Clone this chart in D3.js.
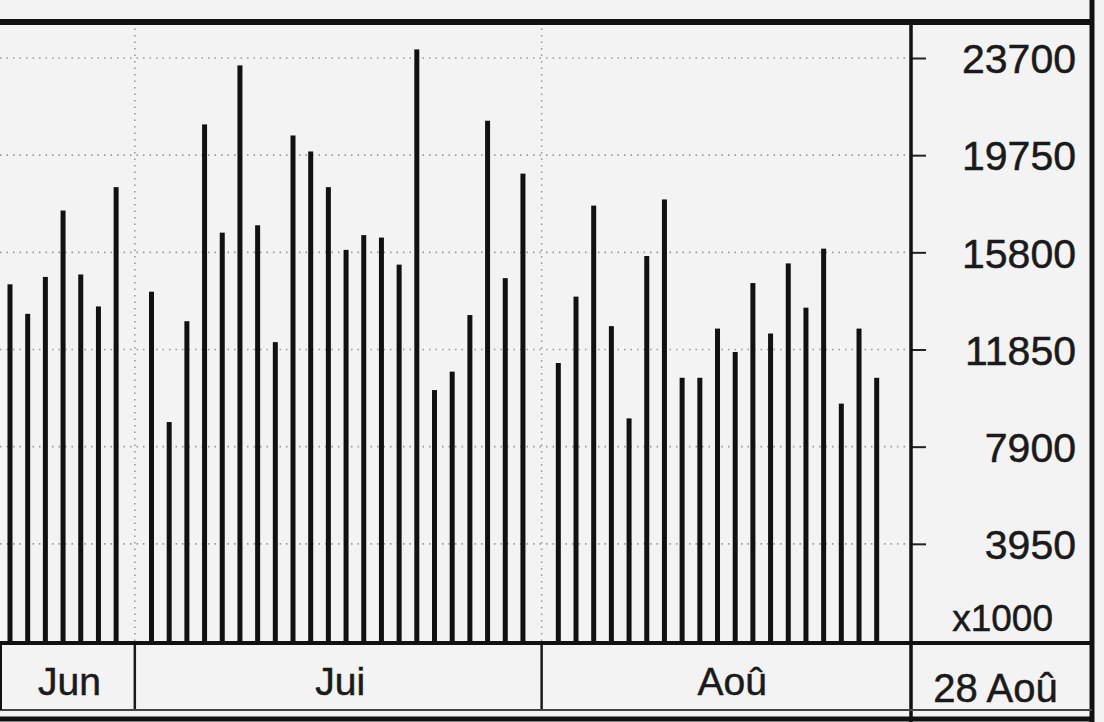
<!DOCTYPE html>
<html>
<head>
<meta charset="utf-8">
<script src="https://cdn.jsdelivr.net/npm/d3@7"></script>
<style>
  html, body { margin: 0; padding: 0; background: #f3f3f3; }
  svg { display: block; }
  text { font-family: "Liberation Sans", Arial, Helvetica, sans-serif; fill: #1a1a1a; stroke: #1a1a1a; stroke-width: 0.5px; }
</style>
</head>
<body>
<svg id="chart" width="1104" height="722"></svg>
<script>
// ---- data ----
const months = ["Jun", "Jui", "Aoû"];
const junValues = [14500, 13300, 14800, 17500, 14900, 13600, 18450];
const juiValues = [14200, 8900, 13000, 21000, 16600, 23400, 16900, 12150, 20550, 19900, 18450,
                   15900, 16500, 16400, 15300, 24050, 10200, 10950, 13250, 21150, 14750, 19000];
const aouValues = [11300, 14000, 17700, 12800, 9050, 15650, 17950, 10700, 10700, 12700, 11750,
                   14550, 12500, 15350, 13550, 15950, 9650, 12700, 10700];
const yTicks = [3950, 7900, 11850, 15800, 19750, 23700];
const unitLabel = "x1000";
const lastDateLabel = "28 Aoû";

// ---- layout ----
const W = 1104, H = 722;
const plotRight = 911, plotTop = 22, baseY = 641;
const bandBottom = 710;
const frameRight = 1092;

const svg = d3.select("#chart");

// build slots: each month's values, with one empty slot between months
const monthSeries = [junValues, juiValues, aouValues];
const bars = [];
const gaps = [];
let slot = 0;
monthSeries.forEach((vals, mi) => {
  if (mi > 0) { gaps.push(slot); slot++; }
  vals.forEach(v => { bars.push({ slot: slot, value: v, month: mi }); slot++; });
});
const lastSlot = slot - 1;

const x = d3.scaleLinear().domain([0, lastSlot]).range([10, 876.7]);
const y = d3.scaleLinear().domain([0, 23700]).range([baseY, 58]);

// horizontal dotted gridlines
svg.append("g").selectAll("line").data(yTicks).join("line")
  .attr("x1", 0).attr("x2", plotRight)
  .attr("y1", d => y(d)).attr("y2", d => y(d))
  .attr("stroke", "#9a9a9a").attr("stroke-width", 1.6)
  .attr("stroke-dasharray", "1.5,5");

// vertical dotted gridlines at month separators
svg.append("g").selectAll("line").data(gaps).join("line")
  .attr("x1", d => x(d) + 1).attr("x2", d => x(d) + 1)
  .attr("y1", plotTop).attr("y2", baseY)
  .attr("stroke", "#9a9a9a").attr("stroke-width", 1.6)
  .attr("stroke-dasharray", "1.5,5");

// bars (thin vertical sticks)
svg.append("g").selectAll("rect").data(bars).join("rect")
  .attr("x", d => x(d.slot) - 2.5)
  .attr("width", 5)
  .attr("y", d => y(d.value))
  .attr("height", d => baseY - y(d.value) + 2)
  .attr("fill", "#111");

// right axis ticks and labels
const axisG = svg.append("g").attr("transform", `translate(${plotRight},0)`);
const yAxis = d3.axisRight(y).tickValues(yTicks).tickSize(15).tickFormat(d3.format("d"));
axisG.call(yAxis);
axisG.select(".domain").remove();
axisG.selectAll(".tick line").attr("stroke", "#222").attr("stroke-width", 2);
axisG.selectAll(".tick text")
  .attr("x", 1076 - plotRight)
  .attr("text-anchor", "end")
  .attr("dy", "0.36em")
  .style("font-size", "41px")
  .style("font-family", "'Liberation Sans', Arial, sans-serif")
  .attr("fill", "#1a1a1a");

svg.append("text")
  .attr("x", 1053).attr("y", 631)
  .attr("text-anchor", "end")
  .style("font-size", "37px")
  .text(unitLabel);

// month bands
const bandEdges = [0, ...gaps.map(g => x(g) + 1), plotRight];
svg.append("g").selectAll("text").data(months).join("text")
  .attr("x", (d, i) => (bandEdges[i] + bandEdges[i + 1]) / 2 + (i === 2 ? 6 : 2))
  .attr("y", 695)
  .attr("text-anchor", "middle")
  .style("font-size", "39px")
  .text(d => d);

svg.append("text")
  .attr("x", (plotRight + frameRight) / 2 - 6).attr("y", 702)
  .attr("text-anchor", "middle")
  .style("font-size", "40px")
  .text(lastDateLabel);

// band separators
svg.append("g").selectAll("line").data(gaps).join("line")
  .attr("x1", d => x(d) + 1).attr("x2", d => x(d) + 1)
  .attr("y1", baseY).attr("y2", bandBottom)
  .attr("stroke", "#1a1a1a").attr("stroke-width", 2.5);

// frame
const frame = svg.append("g").attr("stroke", "#111").attr("fill", "none");
frame.append("line").attr("x1", 0).attr("x2", frameRight + 2).attr("y1", plotTop).attr("y2", plotTop).attr("stroke-width", 6);
frame.append("line").attr("x1", frameRight).attr("x2", frameRight).attr("y1", 0).attr("y2", H).attr("stroke-width", 5);
frame.append("line").attr("x1", plotRight).attr("x2", plotRight).attr("y1", plotTop).attr("y2", H).attr("stroke-width", 3.5);
frame.append("line").attr("x1", 0).attr("x2", frameRight).attr("y1", baseY + 2).attr("y2", baseY + 2).attr("stroke-width", 4);
frame.append("line").attr("x1", 0).attr("x2", frameRight).attr("y1", bandBottom).attr("y2", bandBottom).attr("stroke-width", 2).attr("stroke", "#444");
frame.append("line").attr("x1", 0).attr("x2", frameRight).attr("y1", 719).attr("y2", 719).attr("stroke-width", 5);
frame.append("line").attr("x1", 1).attr("x2", 1).attr("y1", baseY).attr("y2", bandBottom).attr("stroke-width", 2);
</script>
</body>
</html>
